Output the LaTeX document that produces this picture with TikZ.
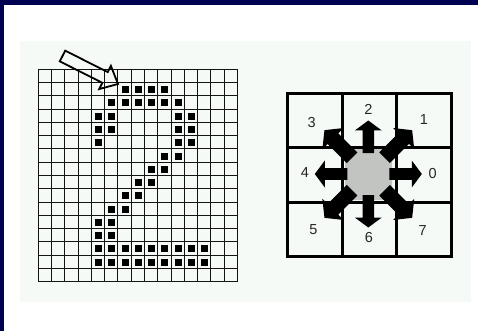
\documentclass[tikz,border=0pt]{standalone}
\usepackage{fontspec}
\setmainfont{Liberation Sans}
\definecolor{navy}{RGB}{0,0,82}
\definecolor{panel}{RGB}{246,250,247}
\definecolor{octgray}{RGB}{194,196,194}
\tikzset{
  gridline/.style={draw=black!92, line width=0.9pt},
  cellsq/.style={fill=black},
  boxline/.style={line width=3pt, draw=black},
  blockarrow/.style={fill=black},
  lbl/.style={font=\fontsize{14.5}{16}\selectfont, inner sep=0pt, text=black!85},
  hollow/.style={draw=black, line width=1.8pt, line join=miter}
}
\begin{document}
\begin{tikzpicture}[x=1pt,y=-1pt]
\useasboundingbox (0,0) rectangle (478,331);
\fill[navy] (0,0) rectangle (478,331);
\fill[white] (4,5) rectangle (478,331);
\fill[panel] (20,41) rectangle (470.5,302);
% pixel grid
\foreach \i in {0,...,15} \draw[gridline] ({38.3+\i*13.27},69.3) -- ({38.3+\i*13.27},281.6);
\foreach \j in {0,...,16} \draw[gridline] (38.3,{69.3+\j*13.27}) -- (237.35,{69.3+\j*13.27});
% filled pixels
\foreach \c/\r in {6/1,7/1,8/1,9/1,
  5/2,6/2,7/2,8/2,9/2,10/2,
  4/3,5/3,10/3,11/3,
  4/4,5/4,10/4,11/4,
  4/5,10/5,11/5,
  9/6,10/6, 8/7,9/7, 7/8,8/8, 6/9,7/9, 5/10,6/10, 4/11,5/11, 4/12,5/12,
  4/13,5/13,6/13,7/13,8/13,9/13,10/13,11/13,12/13,
  4/14,5/14,6/14,7/14,8/14,9/14,10/14,11/14,12/14}
  \fill[cellsq] ({38.3+(\c+0.5)*13.27-3.0},{69.3+(\r+0.5)*13.27-3.0}) rectangle +(7,7);
% hollow arrow
\coordinate (ha) at (65.2,50.65);
\coordinate (hb) at (107.75,72.12);
\coordinate (hc) at (110.9,65.87);
\coordinate (tip) at (118,84);
\coordinate (hd) at (99.2,89.07);
\coordinate (he) at (102.35,82.82);
\coordinate (hf) at (59.8,61.35);
\draw[hollow] (ha) -- (hb) -- (hc) -- (tip) -- (hd) -- (he) -- (hf) -- cycle;
% direction panel
\fill[panel] (287.5,94) rectangle (451.5,256);
\draw[boxline] (342,94) -- (342,256);
\draw[boxline] (396.5,94) -- (396.5,256);
\draw[boxline] (287.5,147) -- (451.5,147);
\draw[boxline] (287.5,202.5) -- (451.5,202.5);
\draw[boxline] (287.5,94) rectangle (451.5,256);
\fill[octgray] (353,149) -- (384,149) -- (392,157) -- (392,192) -- (384,200) -- (353,200) -- (345,192) -- (345,157) -- cycle;
\coordinate (ctr) at (368.3,174);
\foreach \k in {0,2,4,6}
  \fill[blockarrow, shift={(ctr)}, rotate=\k*45] (21,-5.8) -- (43.5,-5.8) -- (43.5,-13.5) -- (53.5,0) -- (43.5,13.5) -- (43.5,5.8) -- (21,5.8) -- cycle;
\foreach \k in {1,3,5,7}
  \fill[blockarrow, shift={(ctr)}, rotate=\k*45] (23,-7.5) -- (50,-7.5) -- (50,-15) -- (62,0) -- (50,15) -- (50,7.5) -- (23,7.5) -- cycle;
\node[lbl] (l0) at (432.7,173.3) {0};
\node[lbl] (l1) at (424,119.3) {1};
\node[lbl] (l2) at (368.3,109.3) {2};
\node[lbl] (l3) at (311.7,122.7) {3};
\node[lbl] (l4) at (305,172.7) {4};
\node[lbl] (l5) at (313.3,230) {5};
\node[lbl] (l6) at (369,237.7) {6};
\node[lbl] (l7) at (422.7,231) {7};
\end{tikzpicture}
\end{document}
